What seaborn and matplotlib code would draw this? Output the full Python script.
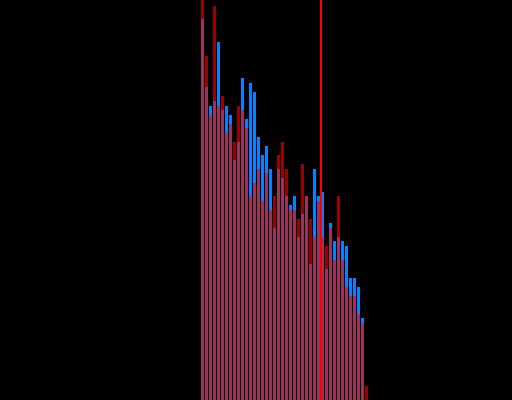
import pandas as pd
import matplotlib
matplotlib.use("Agg")
import matplotlib.pyplot as plt
import seaborn as sns

# histogram counts per bin (bins 0..41)
bin_edges = list(range(0, 43))
blue_counts = [84, 69, 65, 66, 79, 64, 65, 63, 53, 57, 71, 62, 70, 68, 58, 54, 56, 51, 38, 51, 49,
               45, 43, 45, 36, 41, 45, 30, 51, 45, 46, 29, 39, 35, 36, 35, 34, 27, 27, 25, 18, 0]
red_counts = [92, 76, 63, 87, 65, 67, 59, 61, 57, 65, 64, 60, 45, 48, 51, 44, 50, 42, 45, 54, 57,
              51, 42, 42, 40, 52, 45, 40, 36, 44, 36, 34, 38, 31, 45, 31, 25, 23, 23, 19, 17, 3]
marker_x = 30

df = pd.DataFrame({"bin": [b + 0.5 for b in bin_edges[:-1]],
                   "blue": blue_counts, "red": red_counts})

fig = plt.figure(figsize=(5.12, 4.0), dpi=100, facecolor="black")
ax = fig.add_axes([0, 0, 1, 1])
ax.set_facecolor("black")

sns.histplot(data=df, x="bin", weights="blue", bins=bin_edges, shrink=0.75,
             color="#0084ff", alpha=1.0, linewidth=0, ax=ax)
sns.histplot(data=df, x="bin", weights="red", bins=bin_edges, shrink=0.75,
             color="#ff0000", alpha=0.62, linewidth=0, ax=ax)
ax.axvline(marker_x, color="#ff0000", linewidth=1.44)

ax.set_xlim(-50.125, 77.875)
ax.set_ylim(0, 88.3)
ax.axis("off")

fig.savefig("out.png", dpi=100, facecolor="black")
